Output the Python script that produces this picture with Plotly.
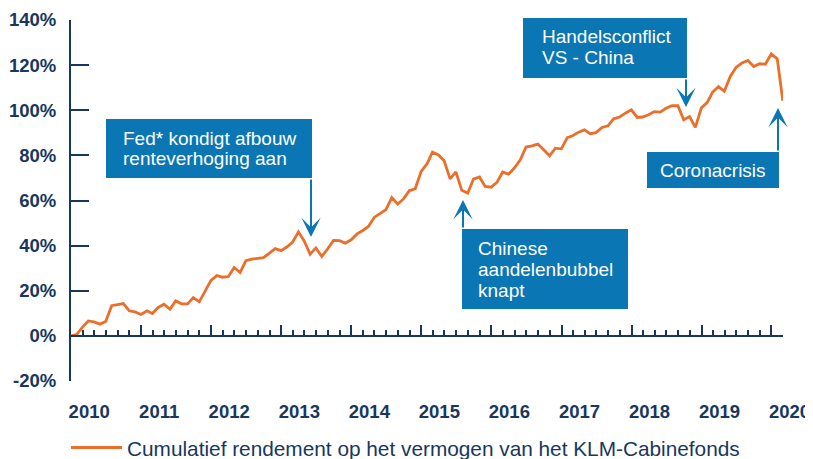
import pandas as pd
import plotly.graph_objects as go

# ---------------- data ----------------
month_ends = pd.date_range(start="2010-01-01", periods=123, freq="MS") - pd.Timedelta(days=1)
cum_return = [
    0.0, 0.7, 3.8, 6.6, 6.2, 5.2, 6.4, 13.4, 13.9, 14.3, 11.1, 10.6,
    9.5, 11.1, 9.9, 12.6, 14.0, 11.8, 15.5, 14.2, 14.2, 17.0, 15.1, 19.7,
    24.6, 26.7, 26.0, 26.3, 30.3, 28.1, 33.3, 34.0, 34.4, 34.7, 36.7, 38.7,
    37.8, 39.5, 41.5, 46.1, 42.1, 36.2, 39.0, 35.2, 38.6, 42.3, 42.2, 41.1,
    42.6, 45.2, 46.6, 48.5, 52.5, 54.4, 55.9, 61.3, 58.4, 60.7, 64.4, 65.2,
    72.9, 76.3, 81.4, 80.2, 77.6, 69.6, 72.7, 64.5, 63.3, 69.5, 70.4, 66.2,
    65.9, 68.1, 72.6, 71.7, 74.4, 78.0, 83.7, 84.2, 85.0, 82.5, 79.8, 83.2,
    82.9, 87.9, 88.7, 90.3, 91.3, 89.6, 90.1, 92.4, 93.1, 96.2, 97.0, 98.7,
    100.2, 96.8, 97.0, 98.0, 99.4, 99.2, 100.9, 102.0, 102.0, 95.8, 97.2, 92.4,
    101.0, 103.5, 108.0, 110.5, 108.4, 115.0, 119.0, 120.9, 122.1, 119.4, 120.6, 120.4,
    125.0, 122.8, 104.2,
]
series_name = "Cumulatief rendement op het vermogen van het KLM-Cabinefonds"

y_tick_vals = [-20, 0, 20, 40, 60, 80, 100, 120, 140]
y_tick_text = ["-20%", "0%", "20%", "40%", "60%", "80%", "100%", "120%", "140%"]
year_labels = ["2010", "2011", "2012", "2013", "2014", "2015", "2016", "2017", "2018", "2019", "2020"]
year_ticks = [f"{y}-01-01" for y in year_labels]

events = [
    ["Fed* kondigt afbouw", "renteverhoging aan"],
    ["Chinese", "aandelenbubbel", "knapt"],
    ["Handelsconflict", "VS - China"],
    ["Coronacrisis"],
]

# ---------------- styling / layout geometry ----------------
NAVY = "#17375e"
BLUE = "#0a76b4"
ORANGE = "#ea6f2a"
FONT = "Liberation Sans, Arial, sans-serif"

# the page body has an 8px margin, so the figure is drawn 8px smaller and
# all page positions below are converted into figure/paper coordinates
OFF = 8
PAGE_W, PAGE_H = 813, 459
W_FIG, H_FIG = PAGE_W - OFF, PAGE_H - OFF
L, R, T, B = 71, 783, 20, 381          # plot area in page pixels
PW, PH = R - L, B - T


def px(x):
    return (x - L) / PW


def py(y):
    return (B - y) / PH


fig = go.Figure()
fig.add_trace(go.Scatter(
    x=month_ends, y=cum_return, mode="lines", name=series_name,
    line=dict(color=ORANGE, width=2.8), showlegend=True,
))

# boxes: (x0, x1, y0, y1) in page pixels; text line positions
boxes = [
    dict(rect=(106, 312, 119, 178), lines_x=121, lines_y=[138, 158], align="left"),
    dict(rect=(462, 628, 229, 309), lines_x=476, lines_y=[248, 269, 290], align="left"),
    dict(rect=(523, 687, 18, 78), lines_x=540, lines_y=[36, 57], align="left"),
    dict(rect=(647, 779, 152, 188), lines_x=713, lines_y=[170], align="center"),
]
arrows = [  # tip (x, y), tail y
    (311, 237, 178),
    (463, 200, 229),
    (686, 107, 78),
    (778, 108, 152),
]

shapes = []
annotations = []
for ev, bx in zip(events, boxes):
    x0, x1, y0, y1 = bx["rect"]
    shapes.append(dict(type="rect", xref="paper", yref="paper",
                       x0=px(x0), x1=px(x1), y0=py(y1), y1=py(y0),
                       fillcolor=BLUE, line=dict(width=0), layer="above"))
    for line_text, ly in zip(ev, bx["lines_y"]):
        annotations.append(dict(
            text=line_text, xref="paper", yref="paper",
            x=px(bx["lines_x"]), y=py(ly),
            xanchor="left" if bx["align"] == "left" else "center", yanchor="middle",
            showarrow=False, font=dict(family=FONT, size=19, color="white"),
        ))

for tx, ty, tail in arrows:
    annotations.append(dict(
        text="", xref="paper", yref="paper", x=px(tx), y=py(ty),
        ax=0, ay=tail - ty, showarrow=True, arrowhead=3, arrowsize=1.6,
        arrowwidth=2, arrowcolor=BLUE, standoff=0,
    ))

fig.update_layout(
    width=W_FIG, height=H_FIG,
    margin=dict(l=L - OFF, r=W_FIG - (R - OFF), t=T - OFF, b=H_FIG - (B - OFF), autoexpand=False),
    paper_bgcolor="white", plot_bgcolor="white",
    font=dict(family=FONT, color=NAVY),
    shapes=shapes, annotations=annotations,
    legend=dict(orientation="h", x=px(66), y=py(448), xanchor="left", yanchor="middle",
                itemwidth=51,
                font=dict(family=FONT, size=20.8, color=NAVY), bgcolor="rgba(0,0,0,0)"),
    xaxis=dict(
        type="date", range=["2009-12-31", "2020-03-01"],
        anchor="free", position=py(336),
        showline=True, linecolor=NAVY, linewidth=2,
        ticks="inside", ticklen=10, tickwidth=2, tickcolor=NAVY,
        tickmode="array", tickvals=year_ticks, ticktext=year_labels,
        ticklabelshift=18, ticklabelstandoff=59,
        tickfont=dict(family=FONT, size=18.5, color=NAVY, weight="bold"),
        minor=dict(ticks="inside", ticklen=5, tickwidth=1.5, tickcolor=NAVY,
                   tick0="2010-01-01", dtick="M2"),
        showgrid=False, zeroline=False, automargin=False,
    ),
    yaxis=dict(
        range=[-20, 140], showline=True, linecolor=NAVY, linewidth=2,
        ticks="inside", ticklen=18, tickwidth=2, tickcolor=NAVY,
        tickmode="array", tickvals=y_tick_vals, ticktext=y_tick_text,
        ticklabelstandoff=9,
        tickfont=dict(family=FONT, size=18.5, color=NAVY, weight="bold"),
        showgrid=False, zeroline=False, automargin=False,
    ),
)

fig.write_html("out.html")
